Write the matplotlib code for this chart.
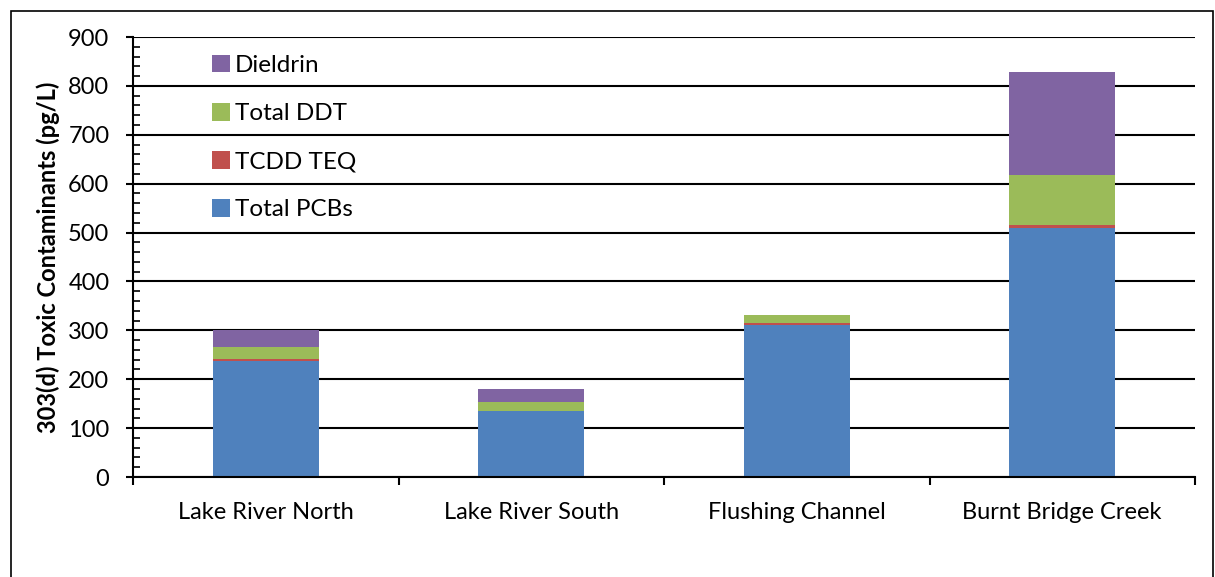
import matplotlib
matplotlib.use("Agg")
import matplotlib.pyplot as plt
from matplotlib.ticker import MultipleLocator
from matplotlib.patches import Rectangle
import numpy as np

plt.rcParams['font.family'] = ['Lato', 'DejaVu Sans']

sites = ["Lake River North", "Lake River South", "Flushing Channel", "Burnt Bridge Creek"]
total_pcbs = [237, 135, 311, 510]
tcdd_teq = [4, 1, 4, 5]
total_ddt = [25, 17, 17, 102]
dieldrin = [34, 28, 0, 212]

series = [
    ("Total PCBs", total_pcbs, "#4f81bd"),
    ("TCDD TEQ", tcdd_teq, "#c0504d"),
    ("Total DDT", total_ddt, "#9bbb59"),
    ("Dieldrin", dieldrin, "#8064a2"),
]

W, H = 1215, 577
fig = plt.figure(figsize=(W / 100, H / 100), dpi=100)
ax = fig.add_axes([133 / W, 1 - 477 / H, (1195 - 133) / W, (477 - 37) / H])

x = np.arange(len(sites))
bottom = np.zeros(len(sites))
handles = []
for name, vals, color in series:
    vals = np.array(vals, dtype=float)
    b = ax.bar(x, vals, width=0.40, bottom=bottom, color=color,
               edgecolor="none", label=name, zorder=3)
    handles.append(b)
    bottom += vals

ax.set_xlim(-0.5, len(sites) - 0.5)
ax.set_ylim(0, 900)
ax.yaxis.set_major_locator(MultipleLocator(100))
ax.yaxis.set_minor_locator(MultipleLocator(20))
ax.grid(axis="y", which="major", color="black", linewidth=1.5, zorder=1)
ax.set_axisbelow(True)

for s in ["top", "right"]:
    ax.spines[s].set_visible(False)
for s in ["left", "bottom"]:
    ax.spines[s].set_linewidth(1.5)
    ax.spines[s].set_zorder(4)

ax.set_xticks(x)
ax.set_xticklabels(sites, fontsize=17)
ax.set_xticks(np.arange(-0.5, len(sites)), minor=True)
ax.tick_params(axis="x", which="major", length=0, pad=18)
ax.tick_params(axis="x", which="minor", direction="out", length=6, width=1.5)
ax.tick_params(axis="y", which="major", direction="out", length=5, width=1.5,
               labelsize=17, pad=12)
ax.tick_params(axis="y", which="minor", direction="in", length=5, width=1.2)

ax.set_ylabel("303(d) Toxic Contaminants (pg/L)", fontsize=17, fontweight="bold")
ax.yaxis.set_label_coords(-73 / (1195 - 133), 0.5)

leg = ax.legend(handles[::-1], [s[0] for s in series][::-1],
                loc="upper left", bbox_to_anchor=(0.065, 0.982),
                frameon=False, fontsize=17.5, handlelength=0.75, handleheight=0.75,
                handletextpad=0.2, labelspacing=1.1, borderaxespad=0)

fig.patches.append(Rectangle((11 / W, -0.05), (1213 - 11) / W, 1.05 - 11 / H,
                             transform=fig.transFigure, fill=False,
                             edgecolor="black", linewidth=1.2))

fig.savefig("out.png", dpi=100)
